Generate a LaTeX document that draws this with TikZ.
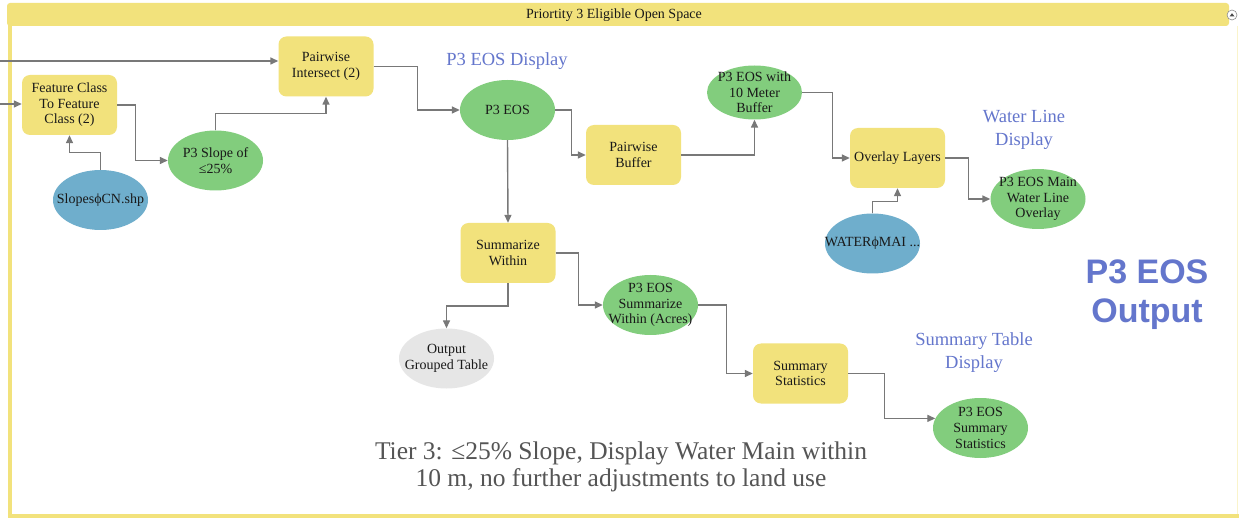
\documentclass[tikz,border=0pt]{standalone}
\usepackage{fontspec}
\setmainfont{Liberation Serif}
\newfontfamily\outfont{Liberation Sans}
\usetikzlibrary{shapes.geometric,arrows.meta,calc}
\definecolor{tyellow}{RGB}{242,226,124}
\definecolor{tgreen}{RGB}{130,205,125}
\definecolor{tblue}{RGB}{111,174,204}
\definecolor{tgray}{RGB}{230,230,230}
\definecolor{lblue}{RGB}{100,118,204}
\definecolor{conncol}{RGB}{120,120,120}
\definecolor{txtgray}{RGB}{85,85,85}
\tikzset{
  nodetext/.style={font=\fontsize{14}{15.6}\selectfont, text=black!90, align=center},
  toolbox/.style={rectangle, rounded corners=8pt, fill=tyellow, minimum width=95pt, minimum height=60pt, inner sep=0pt, nodetext},
  dataell/.style={ellipse, fill=tgreen, minimum width=95pt, minimum height=60pt, inner sep=0pt},
  inell/.style={dataell, fill=tblue},
  outell/.style={dataell, fill=tgray},
  every label/.style={nodetext, inner sep=0pt},
  conn/.style={draw=conncol, line width=1.4pt, -{Triangle[length=8pt,width=7pt]}},
  disp/.style={font=\fontsize{18.5}{23}\selectfont, text=lblue, align=center},
}
\begin{document}
\begin{tikzpicture}[x=1pt,y=-1pt]
\useasboundingbox (0,0) rectangle (1239,518);
% frame
\fill[white] (0,0) rectangle (1239,518);
\fill[tyellow, rounded corners=3pt] (7,3) rectangle (1229,26);
\node[font=\fontsize{14}{16}\selectfont, text=black!90] (title) at (614,15) {Priortity 3 Eligible Open Space};
\fill[tyellow] (8,24) rectangle (12,517);
\fill[tyellow] (8,514) rectangle (1239,518);
\draw[tyellow!40, line width=1pt] (1237,26) -- (1237,514);
\node[circle, draw=black!45, fill=white, line width=0.6pt, minimum size=10pt, inner sep=0pt] (btn) at (1232,15) {};
\fill[black!70] ($(btn)+(-2.5,1.5)$) -- ($(btn)+(2.5,1.5)$) -- ($(btn)+(0,-1.8)$) -- cycle;

% nodes
\node[toolbox] (fc) at (69.5,105) {Feature Class\\To Feature\\Class (2)};
\node[toolbox] (pi) at (326,66.5) {Pairwise\\Intersect (2)};
\node[dataell, label={center:P3 Slope of\\≤25\%}] (ps) at (215.5,160.5) {};
\node[inell, label={center:SlopesϕCN.shp}] (sl) at (100.5,200) {};
\node[dataell, label={center:P3 EOS}] (eos) at (507.5,110) {};
\node[toolbox] (pb) at (633.5,155) {Pairwise\\Buffer};
\node[dataell, minimum height=54pt, label={center:P3 EOS with\\10 Meter\\Buffer}] (eb) at (754.5,92.5) {};
\node[toolbox] (ol) at (897.5,158) {Overlay Layers};
\node[dataell, label={center:P3 EOS Main\\Water Line\\Overlay}] (mw) at (1038,199) {};
\node[inell, label={center:WATERϕMAI ...}] (wm) at (872.5,243.5) {};
\node[toolbox] (sw) at (508,253) {Summarize\\Within};
\node[outell, label={center:Output\\Grouped Table}] (og) at (446.5,358.5) {};
\node[dataell, label={center:P3 EOS\\Summarize\\Within (Acres)}] (pes) at (650.5,305) {};
\node[toolbox] (ss) at (800.5,373.5) {Summary\\Statistics};
\node[dataell, label={center:P3 EOS\\Summary\\Statistics}] (pst) at (980.5,428) {};

% display labels
\node[disp] (d1) at (507,61) {P3 EOS Display};
\node[disp] (d2) at (1024,130) {Water Line\\Display};
\node[disp] (d3) at (974,353) {Summary Table\\Display};
\node[font=\outfont\bfseries\fontsize{34}{39}\selectfont, text=lblue, align=center] (outp) at (1147,295) {P3 EOS\\Output};
\node[font=\fontsize{25.5}{27.5}\selectfont, text=txtgray, align=center] (tier) at (621,467) {Tier 3: ≤25\% Slope, Display Water Main within\\10 m, no further adjustments to land use};

% connectors
\coordinate (inA) at (0,61);
\coordinate (inB) at (0,104);
\draw[conn] (inA) -- (pi.west |- inA);
\draw[conn] (inB) -- (fc.west |- inB);
\draw[conn] (fc.east) -- ++(18,0) |- (ps.west);
\draw[conn] (sl.north) -- ++(0,-17) -| (fc.south);
\draw[conn] (ps.north) -- ++(0,-17) -| (pi.south);
\draw[conn] (pi.east) -- ++(44,0) |- (eos.west);
\draw[conn] (eos.east) -- ++(16,0) |- (pb.west);
\draw[conn] (pb.east) -| (eb.south);
\draw[conn] (eb.east) -- ++(30,0) |- (ol.west);
\draw[conn] (wm.north) -- ++(0,-12) -| (ol.south);
\draw[conn] (ol.east) -- ++(23,0) |- (mw.west);
\draw[conn] (eos.south) -- (sw.north);
\draw[conn] (sw.south) -- ++(0,23) -| (og.north);
\draw[conn] (sw.east) -- ++(23,0) |- (pes.west);
\draw[conn] (pes.east) -- ++(28,0) |- (ss.west);
\draw[conn] (ss.east) -- ++(36,0) |- (pst.168);
\end{tikzpicture}
\end{document}
